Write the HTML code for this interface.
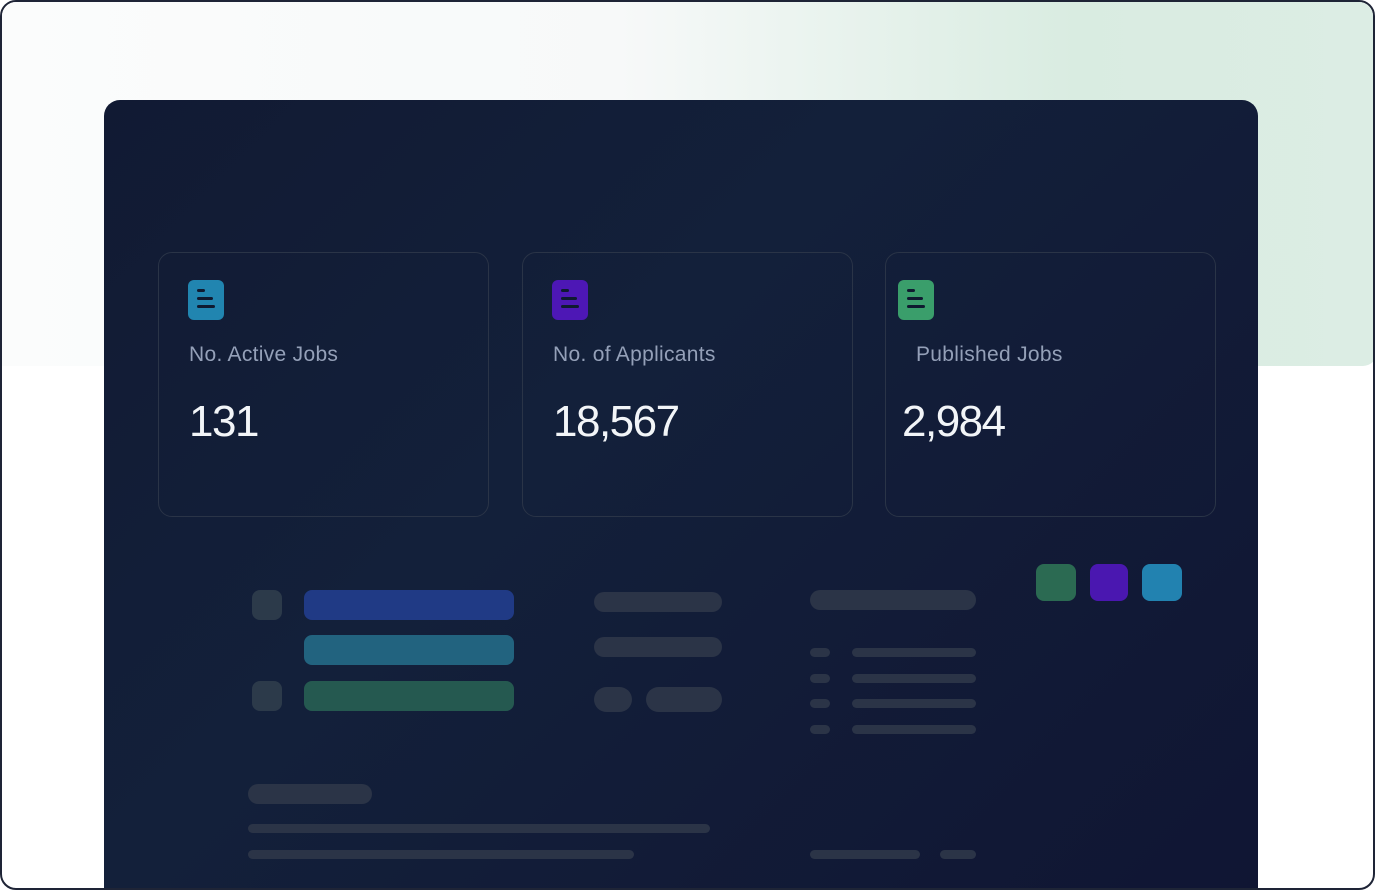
<!DOCTYPE html>
<html><head><meta charset="utf-8"><style>
*{margin:0;padding:0;box-sizing:border-box}
body{width:1375px;height:890px;overflow:hidden;background:#fff;font-family:"Liberation Sans",sans-serif;position:relative}
.frame{position:absolute;left:0;top:0;width:1375px;height:890px;border:2px solid #1e2436;border-radius:16px;overflow:hidden;background:#fff}
.band{position:absolute;left:0;top:0;width:1375px;height:364px;background:linear-gradient(90deg,#fbfcfc 0%,#f7f9f9 45%,#d9ece1 78%,#dcede4 100%);border-radius:0 0 14px 0}
.panel{position:absolute;left:102px;top:98px;width:1154px;height:820px;border-radius:16px;background:linear-gradient(135deg,#111a33 0%,#13203a 40%,#101533 100%)}
.card{position:absolute;top:152px;width:331px;height:265px;border:1.5px solid #2a3447;border-radius:14px}
.ic{position:absolute;left:29px;top:27px;width:36px;height:40px;border-radius:6px}
.ic i{position:absolute;left:9px;height:3px;background:#0f1a30;border-radius:2px}
.lbl{position:absolute;left:30px;top:90px;font-size:21px;color:#94a0b8;letter-spacing:.3px}
.num{position:absolute;left:30px;top:144px;font-size:44px;color:#f2f5f8;letter-spacing:-1.5px}
.r{position:absolute;border-radius:10px}
.g{background:#2b3447}
</style></head><body>
<div class="frame">
<div class="band"></div>
<div class="panel">
 <div class="card" style="left:54px"><div class="ic" style="background:#2185b0"><i style="top:9px;width:8px"></i><i style="top:17px;width:16px"></i><i style="top:25px;width:18px"></i></div><div class="lbl">No. Active Jobs</div><div class="num">131</div></div>
 <div class="card" style="left:418px"><div class="ic" style="background:#4d17b5"><i style="top:9px;width:8px"></i><i style="top:17px;width:16px"></i><i style="top:25px;width:18px"></i></div><div class="lbl">No. of Applicants</div><div class="num">18,567</div></div>
 <div class="card" style="left:781px"><div class="ic" style="left:12px;background:#3a9e6b"><i style="top:9px;width:8px"></i><i style="top:17px;width:16px"></i><i style="top:25px;width:18px"></i></div><div class="lbl">Published Jobs</div><div class="num" style="left:16px">2,984</div></div>

 <div class="r" style="left:148px;top:490px;width:30px;height:30px;background:#2c3a4a;border-radius:8px"></div>
 <div class="r" style="left:200px;top:490px;width:210px;height:30px;background:#203a85;border-radius:8px"></div>
 <div class="r" style="left:200px;top:535px;width:210px;height:30px;background:#22637f;border-radius:8px"></div>
 <div class="r" style="left:148px;top:581px;width:30px;height:30px;background:#2c3a4a;border-radius:8px"></div>
 <div class="r" style="left:200px;top:581px;width:210px;height:30px;background:#255950;border-radius:8px"></div>

 <div class="r g" style="left:490px;top:492px;width:128px;height:20px"></div>
 <div class="r g" style="left:490px;top:537px;width:128px;height:20px"></div>
 <div class="r g" style="left:490px;top:587px;width:38px;height:25px;border-radius:13px"></div>
 <div class="r g" style="left:542px;top:587px;width:76px;height:25px;border-radius:13px"></div>

 <div class="r g" style="left:706px;top:490px;width:166px;height:20px"></div>
 <div class="r g" style="left:706px;top:548px;width:20px;height:9px"></div><div class="r g" style="left:748px;top:548px;width:124px;height:9px"></div>
 <div class="r g" style="left:706px;top:574px;width:20px;height:9px"></div><div class="r g" style="left:748px;top:574px;width:124px;height:9px"></div>
 <div class="r g" style="left:706px;top:599px;width:20px;height:9px"></div><div class="r g" style="left:748px;top:599px;width:124px;height:9px"></div>
 <div class="r g" style="left:706px;top:625px;width:20px;height:9px"></div><div class="r g" style="left:748px;top:625px;width:124px;height:9px"></div>

 <div class="r" style="left:932px;top:464px;width:40px;height:37px;background:#2b6a52;border-radius:8px"></div>
 <div class="r" style="left:986px;top:464px;width:38px;height:37px;background:#4a17b0;border-radius:8px"></div>
 <div class="r" style="left:1038px;top:464px;width:40px;height:37px;background:#2282b0;border-radius:8px"></div>

 <div class="r g" style="left:144px;top:684px;width:124px;height:20px"></div>
 <div class="r g" style="left:144px;top:724px;width:462px;height:9px"></div>
 <div class="r g" style="left:144px;top:750px;width:386px;height:9px"></div>
 <div class="r g" style="left:706px;top:750px;width:110px;height:9px"></div>
 <div class="r g" style="left:836px;top:750px;width:36px;height:9px"></div>
</div>
</div>
</body></html>
